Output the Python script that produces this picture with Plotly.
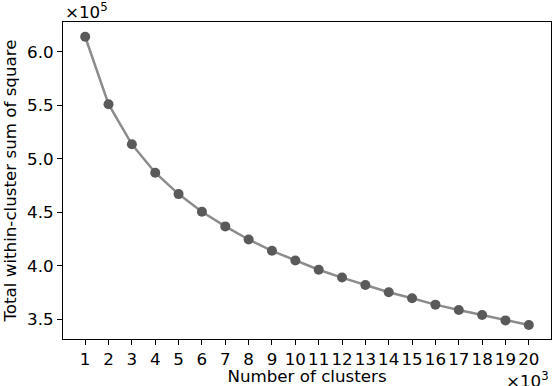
import plotly.graph_objects as go

# number of clusters (x10^3) and total within-cluster sum of squares (x10^5)
n_clusters = [1, 2, 3, 4, 5, 6, 7, 8, 9, 10, 11, 12, 13, 14, 15, 16, 17, 18, 19, 20]
wcss = [6.14, 5.51, 5.135, 4.87, 4.67, 4.505, 4.368, 4.246, 4.14, 4.05,
        3.963, 3.89, 3.821, 3.753, 3.697, 3.637, 3.587, 3.54, 3.49, 3.447]
y_ticks = [3.5, 4.0, 4.5, 5.0, 5.5, 6.0]
y_tick_text = ["3.5", "4.0", "4.5", "5.0", "5.5", "6.0"]

font = dict(family="DejaVu Sans", size=16.7, color="black")

fig = go.Figure()
fig.add_trace(go.Scatter(
    x=n_clusters, y=wcss, mode="lines+markers",
    line=dict(color="rgb(140,140,140)", width=2.5),
    marker=dict(color="rgb(90,90,90)", size=10),
    showlegend=False))

axis_common = dict(showline=True, linecolor="black", linewidth=1, mirror=True,
                   ticks="outside", ticklen=5, tickwidth=1, tickcolor="black",
                   showgrid=False, zeroline=False, tickfont=font, automargin=False)

fig.update_xaxes(range=[0.05, 20.95], tickmode="array", tickvals=n_clusters,
                 ticktext=[str(v) for v in n_clusters],
                 title=dict(text="Number of clusters", font=font, standoff=10),
                 **axis_common)
fig.update_yaxes(range=[3.316, 6.278], tickmode="array", tickvals=y_ticks,
                 ticktext=y_tick_text,
                 title=dict(text="Total within-cluster sum of square", font=font, standoff=7),
                 **axis_common)

fig.add_annotation(text="\u00d710<sup>5</sup>", xref="paper", yref="paper",
                   x=0, y=1, xanchor="left", yanchor="bottom", yshift=-2,
                   showarrow=False, font=font)
fig.add_annotation(text="\u00d710<sup>3</sup>", xref="paper", yref="paper",
                   x=1, y=0, xanchor="right", yanchor="top", yshift=-28,
                   showarrow=False, font=font)

fig.update_layout(width=554, height=386, plot_bgcolor="white", paper_bgcolor="white",
                  margin=dict(l=63, r=3, t=22, b=47), font=font)

# drop the default page margin so the figure sits at the window's corner
fig.write_html("out.html", config={"displayModeBar": False},
               post_script="document.body.style.margin='0';")
